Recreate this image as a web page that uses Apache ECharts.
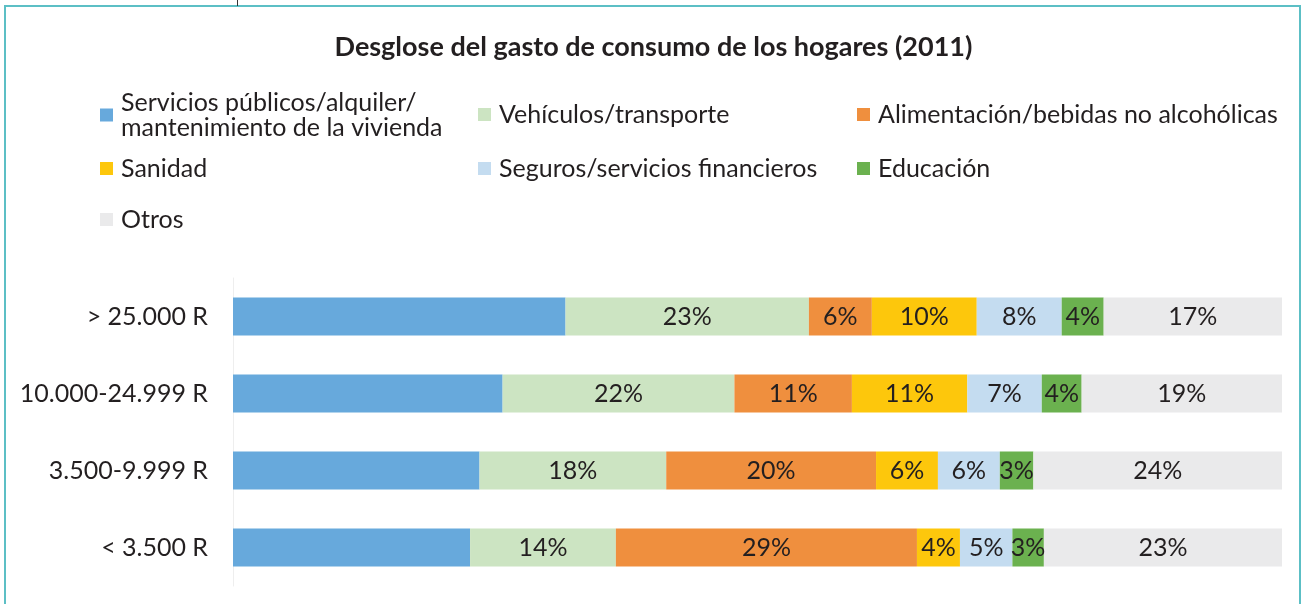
<!DOCTYPE html>
<html>
<head>
<meta charset="utf-8">
<script src="https://cdn.jsdelivr.net/npm/echarts@6/dist/echarts.min.js"></script>
<style>
  html, body { margin: 0; padding: 0; background: #fff; }
  #chart { width: 1307px; height: 604px; }
</style>
</head>
<body>
<div id="chart"></div>
<script>
// tramos de ingresos (de arriba a abajo)
var categories = ['> 25.000 R', '10.000-24.999 R', '3.500-9.999 R', '< 3.500 R'];

var seriesNames = [
    'Servicios públicos/alquiler/\nmantenimiento de la vivienda',
    'Vehículos/transporte',
    'Alimentación/bebidas no alcohólicas',
    'Sanidad',
    'Seguros/servicios financieros',
    'Educación',
    'Otros'
];

var vivienda    = [31.7, 25.7, 23.5, 22.6];
var transporte  = [23.2, 22.1, 17.8, 13.9];
var alimentos   = [6.0, 11.2, 20.0, 28.7];
var sanidad     = [10.0, 11.0, 5.9, 4.1];
var seguros     = [8.1, 7.1, 5.9, 5.0];
var educacion   = [4.0, 3.8, 3.2, 3.0];
var otros       = [17.0, 19.1, 23.7, 22.7];

var seriesData = [vivienda, transporte, alimentos, sanidad, seguros, educacion, otros];
var colors = ['#67a9dc', '#cce4c2', '#ef8f3e', '#fdc70c', '#c4dcf0', '#6bb14f', '#eaeaeb'];

var textColor = '#231f20';
var fontFamily = 'Lato, "Open Sans", sans-serif';

var myChart = echarts.init(document.getElementById('chart'));

// posición de cada entrada de la leyenda [left, top]
var legendPos = [
    [100, 90], [478, 102], [857, 102],
    [100, 156], [478, 156], [857, 156],
    [100, 207]
];

var legends = seriesNames.map(function (name, i) {
    return {
        data: [name],
        left: legendPos[i][0],
        top: legendPos[i][1],
        itemWidth: 13,
        itemHeight: 13,
        itemGap: 0,
        icon: 'rect',
        padding: 0,
        selectedMode: false,
        textStyle: {
            color: textColor,
            fontSize: 25,
            lineHeight: 25,
            fontFamily: fontFamily,
            padding: [0, 0, 0, 3]
        }
    };
});

var series = seriesNames.map(function (name, i) {
    return {
        name: name,
        type: 'bar',
        stack: 'total',
        barWidth: 38,
        data: seriesData[i],
        itemStyle: { color: colors[i] },
        label: {
            show: i > 0,
            position: 'inside',
            formatter: function (p) {
                return Math.round(p.value) + '%';
            },
            color: textColor,
            fontSize: 25,
            fontFamily: fontFamily
        },
        emphasis: { disabled: true }
    };
});

option = {
    backgroundColor: '#fff',
    animation: false,
    color: colors,
    title: {
        text: 'Desglose del gasto de consumo de los hogares (2011)',
        left: 'center',
        top: 29,
        textStyle: {
            color: textColor,
            fontSize: 27,
            fontWeight: 'bold',
            fontFamily: fontFamily
        }
    },
    legend: legends,
    grid: {
        left: 233,
        right: 25,
        top: 278,
        height: 308,
        containLabel: false
    },
    xAxis: {
        type: 'value',
        min: 0,
        max: 100,
        show: false
    },
    yAxis: {
        type: 'category',
        data: categories,
        inverse: true,
        axisTick: { show: false },
        axisLine: { show: true, lineStyle: { color: '#eeeeee', width: 1 } },
        axisLabel: {
            margin: 25,
            color: textColor,
            fontSize: 25,
            fontFamily: fontFamily
        }
    },
    graphic: [
        {
            type: 'rect',
            shape: { x: 5, y: 6, width: 1295, height: 640 },
            style: { fill: 'none', stroke: '#5cbfc5', lineWidth: 2 },
            silent: true
        },
        {
            type: 'line',
            shape: { x1: 237.5, y1: 0, x2: 237.5, y2: 6 },
            style: { stroke: '#333', lineWidth: 1 },
            silent: true
        }
    ],
    series: series
};

myChart.setOption(option);
window.addEventListener('resize', function () {
    myChart.resize();
});
</script>
</body>
</html>
